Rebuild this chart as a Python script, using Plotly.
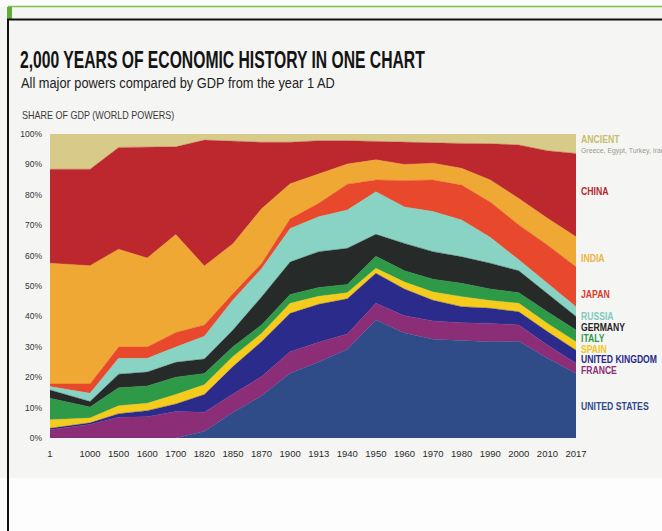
import json
import numpy as np
import plotly.graph_objects as go

# Share of combined GDP among the world powers, percent of the total
years = ["1", "1000", "1500", "1600", "1700", "1820", "1850", "1870", "1900", "1913",
         "1940", "1950", "1960", "1970", "1980", "1990", "2000", "2010", "2017"]

united_states = [0, 0, 0, 0, 0, 2.2, 8.4, 13.9, 21.3, 25.0, 29.2, 38.8, 34.5, 32.5, 32.0, 31.7, 31.8, 26.2, 21.3]
france = [2.7, 4.4, 6.8, 7.0, 8.7, 6.3, 6.1, 6.3, 7.1, 6.5, 5.0, 5.5, 5.7, 6.0, 5.9, 6.0, 5.4, 4.4, 3.3]
united_kingdom = [0.5, 0.6, 1.2, 2.0, 2.5, 5.8, 9.0, 11.5, 12.6, 12.5, 11.6, 9.9, 8.8, 6.8, 5.3, 5.0, 4.3, 4.4, 4.3]
spain = [2.8, 1.6, 2.6, 2.4, 3.1, 3.2, 3.3, 2.7, 3.3, 2.6, 2.0, 1.6, 2.3, 2.7, 3.3, 2.5, 2.8, 2.7, 2.8]
italy = [7.1, 3.6, 5.9, 5.7, 5.7, 3.7, 3.2, 2.8, 2.9, 2.9, 2.7, 4.0, 3.7, 4.2, 4.4, 3.8, 3.5, 3.8, 3.8]
germany = [2.7, 1.8, 4.5, 4.6, 4.9, 4.8, 5.5, 9.2, 10.7, 11.8, 11.9, 7.2, 9.0, 9.1, 8.7, 8.5, 7.2, 6.0, 4.5]
russia = [1.1, 2.7, 5.2, 4.5, 5.0, 7.5, 9.9, 9.3, 11.0, 11.5, 12.6, 14.0, 12.0, 13.2, 12.1, 8.5, 3.6, 3.5, 3.2]
japan = [0.9, 3.1, 3.7, 3.7, 4.8, 3.7, 2.1, 1.7, 3.2, 4.4, 8.5, 3.9, 8.7, 10.4, 11.5, 11.6, 11.5, 12.5, 13.1]
india = [39.7, 38.9, 32.2, 29.3, 32.2, 19.4, 16.4, 18.0, 11.5, 9.6, 6.6, 6.6, 5.3, 5.5, 5.5, 7.3, 8.7, 8.8, 9.9]
china = [30.9, 31.7, 33.5, 36.4, 28.9, 41.4, 33.7, 21.9, 13.7, 11.0, 7.7, 6.0, 7.2, 6.7, 8.2, 11.9, 17.6, 22.2, 27.4]
ancient = [11.6, 11.6, 4.4, 4.4, 4.2, 2.0, 2.4, 2.7, 2.7, 2.2, 2.2, 2.5, 2.8, 2.9, 3.1, 3.2, 3.6, 5.5, 6.4]

pct_ticks = list(range(0, 101, 10))
pct_labels = [f"{v}%" for v in pct_ticks]

# Stacking order, bottom to top
layers = [
    ("UNITED STATES", united_states, "#2f4b88"),
    ("FRANCE", france, "#8c2d78"),
    ("UNITED KINGDOM", united_kingdom, "#2b2b8c"),
    ("SPAIN", spain, "#f5cb1c"),
    ("ITALY", italy, "#2e9a48"),
    ("GERMANY", germany, "#262b29"),
    ("RUSSIA", russia, "#88d3c3"),
    ("JAPAN", japan, "#e8482b"),
    ("INDIA", india, "#eea833"),
    ("CHINA", china, "#bd282e"),
    ("ANCIENT", ancient, "#d8ca88"),
]

# Year slots along the axis: the span before 1000 AD is drawn a little wider
idx = np.arange(len(years), dtype=float)
x_slot = idx + 0.4 * (idx > 0)

W, H = 662, 531
L, R, T, B = 50, 86, 134, 93
PW, PH = W - L - R, H - T - B


def px(xp):
    return (xp - L) / PW


def py(yp):
    return (H - B - yp) / PH


fig = go.Figure()
for name, vals, color in layers:
    fig.add_trace(go.Scatter(
        x=x_slot, y=vals, name=name, stackgroup="gdp", mode="lines",
        line=dict(width=0.4, color=color), fillcolor=color,
        hovertemplate=name + " %{text}: %{y:.1f}%<extra></extra>", text=years,
    ))

SANS = "Liberation Sans, Arial, sans-serif"

# (text, x px, y px, size, colour, bold, horizontal squeeze)
text_items = [
    ("2,000 YEARS OF ECONOMIC HISTORY IN ONE CHART", 19, 60, 23.5, "#141414", True, 0.668),
    ("All major powers compared by GDP from the year 1 AD", 20, 82, 15, "#222222", False, 0.855),
    ("SHARE OF GDP (WORLD POWERS)", 21, 115, 10, "#3a3a3a", False, 0.9),
    ("ANCIENT", 580, 139, 11, "#c9bd6c", True, 0.79),
    ("Greece, Egypt, Turkey, Iran", 580, 150, 7.5, "#9a9a90", False, 0.92),
    ("CHINA", 580, 191, 11, "#b8272e", True, 0.79),
    ("INDIA", 580, 258, 11, "#efb243", True, 0.79),
    ("JAPAN", 580, 294, 11, "#d93a2b", True, 0.79),
    ("RUSSIA", 580, 316, 10.5, "#7fcbbc", True, 0.82),
    ("GERMANY", 580, 327, 10.5, "#222222", True, 0.82),
    ("ITALY", 580, 338, 10.5, "#2e9a48", True, 0.82),
    ("SPAIN", 580, 348.5, 10.5, "#f2c61a", True, 0.82),
    ("UNITED KINGDOM", 580, 359, 10.5, "#26288a", True, 0.82),
    ("FRANCE", 580, 370, 10.5, "#8c2d78", True, 0.82),
    ("UNITED STATES", 580, 406, 11, "#2f4b88", True, 0.79),
]

annotations = []
squeeze = {}
for i, (txt, xp, yp, size, color, bold, k) in enumerate(text_items):
    annotations.append(dict(
        text=f"<b>{txt}</b>" if bold else txt, x=px(xp), y=py(yp),
        xref="paper", yref="paper", xanchor="left", yanchor="middle",
        showarrow=False, align="left", borderpad=0,
        font=dict(family=SANS, size=size, color=color),
    ))
    squeeze[str(i)] = k

shapes = [
    # page panels and frame
    dict(type="rect", x0=px(0), x1=px(W), y0=py(478), y1=py(H), fillcolor="#fdfdfd",
         line=dict(width=0), layer="below"),
    dict(type="rect", x0=px(0), x1=px(W), y0=py(0), y1=py(6), fillcolor="#fdfdfd",
         line=dict(width=0), layer="below"),
    dict(type="line", x0=px(8), x1=px(W), y0=py(6.5), y1=py(6.5),
         line=dict(color="#7fc34f", width=1.5)),
    dict(type="rect", x0=px(7), x1=px(12), y0=py(7), y1=py(19), fillcolor="#5fae3a",
         line=dict(width=0)),
    dict(type="line", x0=px(7), x1=px(W), y0=py(19.5), y1=py(19.5),
         line=dict(color="#111111", width=2)),
    dict(type="line", x0=px(8), x1=px(8), y0=py(19), y1=py(H),
         line=dict(color="#111111", width=2)),
]
for s in shapes:
    s.update(xref="paper", yref="paper")

fig.update_layout(
    width=W, height=H, margin=dict(l=L, r=R, t=T, b=B, pad=0),
    paper_bgcolor="#f5f5f3", plot_bgcolor="#f5f5f3",
    showlegend=False, annotations=annotations, shapes=shapes,
    font=dict(family=SANS, color="#333333"),
)
fig.update_xaxes(range=[x_slot[0], x_slot[-1]], tickmode="array", tickvals=x_slot, ticktext=years,
                 showgrid=False, zeroline=False, showline=False, ticks="",
                 tickfont=dict(family=SANS, size=9.5, color="#2a2a2a"), ticklabelstandoff=8)
fig.update_yaxes(range=[0, 100], tickmode="array", tickvals=pct_ticks, ticktext=pct_labels,
                 showgrid=False, zeroline=False, showline=False, ticks="",
                 tickfont=dict(family=SANS, size=8.5, color="#333333"), ticklabelstandoff=7)

# Narrow the headline and label lettering horizontally, keeping each left edge fixed
post_js = """
var gd = document.getElementById('{plot_id}');
var squeeze = SQUEEZE;
gd.querySelectorAll('g.annotation').forEach(function (g) {
  var k = squeeze[g.getAttribute('data-index')];
  var t = g.querySelector('text.annotation-text');
  if (!k || !t) return;
  t.style.transformBox = 'fill-box';
  t.style.transformOrigin = '0% 50%';
  t.style.transform = 'scaleX(' + k + ')';
});
""".replace("SQUEEZE", json.dumps(squeeze))

fig.write_html("out.html", post_script=post_js)
